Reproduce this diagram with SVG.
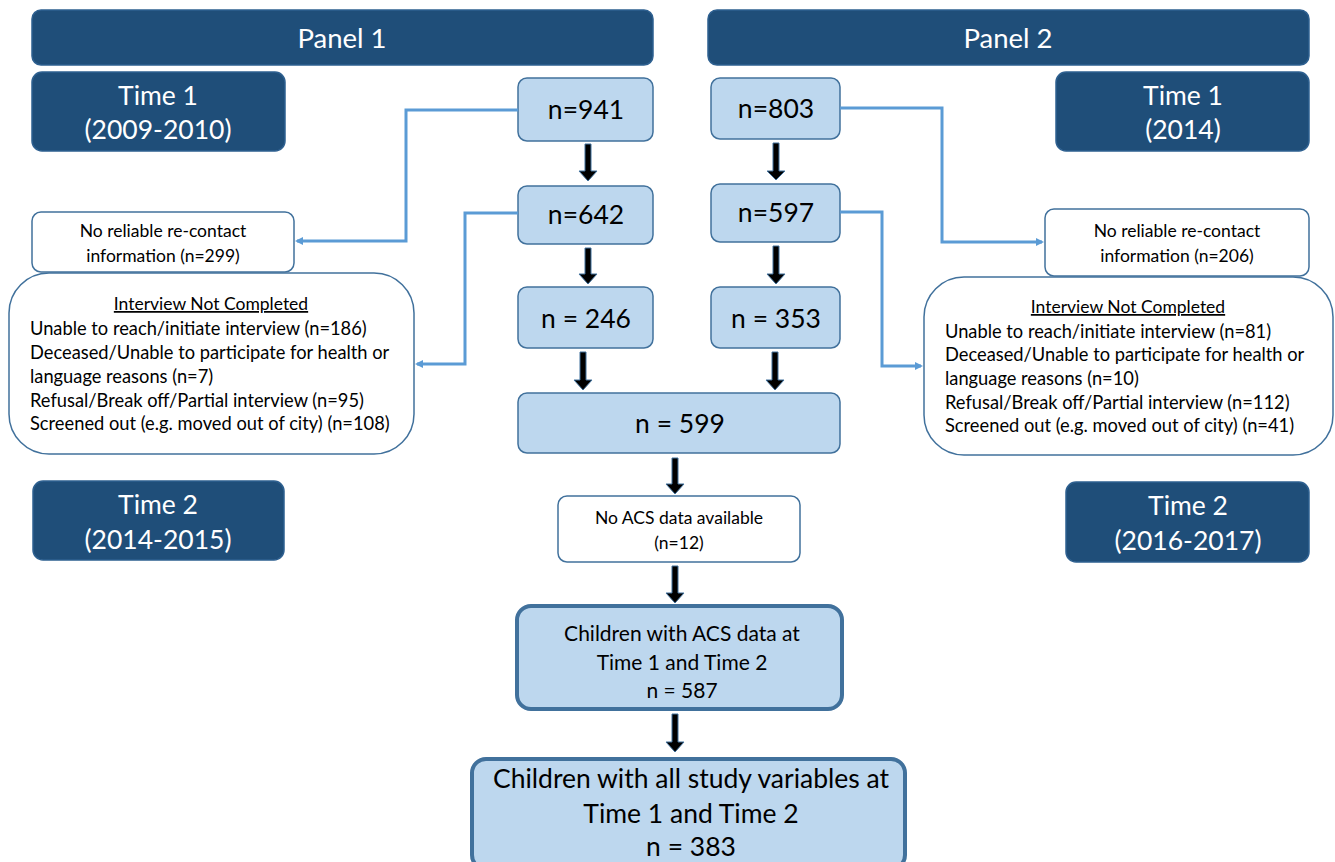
<svg xmlns="http://www.w3.org/2000/svg" width="1335" height="862" viewBox="0 0 1335 862">
<style>
text{font-family:Lato,"Open Sans","Liberation Sans",sans-serif;}
.dark{fill:#1F4E79;stroke:#2E6090;stroke-width:1.5;}
.lt{fill:#BDD7EE;stroke:#41719C;stroke-width:1.5;}
.lt2{fill:#BDD7EE;stroke:#41719C;stroke-width:4;}
.wb{fill:#FFFFFF;stroke:#41719C;stroke-width:1.5;}
.wt{fill:#FFFFFF;font-size:26.5px;text-anchor:middle;}
.bt{fill:#000000;font-size:26.5px;text-anchor:middle;}
.st{fill:#000000;font-size:17.5px;text-anchor:middle;}
.lt15{fill:#000000;font-size:18.3px;}
.conn{fill:none;stroke:#5B9BD5;stroke-width:3;}
.ba{fill:#000000;stroke:#41719C;stroke-width:1;}
</style>
<defs>
<marker id="ah" markerWidth="8" markerHeight="8" refX="6" refY="4" orient="auto" markerUnits="userSpaceOnUse" viewBox="0 0 8 8">
<path d="M0,0 L8,4 L0,8 Z" fill="#5B9BD5"/>
</marker>
</defs>
<rect width="1335" height="862" fill="#FFFFFF"/>

<g id="panel1"><rect class="dark" x="32" y="10" width="621" height="55" rx="9"/><text class="wt" style="font-size:27.5px" x="342" y="48">Panel 1</text></g>
<g id="panel2"><rect class="dark" x="708" y="10" width="601" height="55" rx="9"/><text class="wt" style="font-size:27.5px" x="1008" y="48">Panel 2</text></g>
<g id="time1-left"><rect class="dark" x="32" y="72" width="253" height="79" rx="10"/><text class="wt" x="158" y="105">Time 1</text><text class="wt" x="158" y="139">(2009-2010)</text></g>
<g id="time1-right"><rect class="dark" x="1056" y="72" width="253" height="79" rx="10"/><text class="wt" x="1183" y="105">Time 1</text><text class="wt" x="1183" y="139">(2014)</text></g>
<g id="time2-left"><rect class="dark" x="33" y="481" width="251" height="79" rx="10"/><text class="wt" x="158" y="514">Time 2</text><text class="wt" x="158" y="549">(2014-2015)</text></g>
<g id="time2-right"><rect class="dark" x="1066" y="482" width="243" height="80" rx="10"/><text class="wt" x="1188" y="515">Time 2</text><text class="wt" x="1188" y="550">(2016-2017)</text></g>

<g id="n941"><rect class="lt" x="518" y="78" width="135" height="63" rx="9"/><text class="bt" x="586" y="119">n=941</text></g>
<g id="n642"><rect class="lt" x="518" y="186" width="135" height="58" rx="9"/><text class="bt" x="586" y="224">n=642</text></g>
<g id="n246"><rect class="lt" x="518" y="287" width="135" height="61" rx="9"/><text class="bt" x="586" y="328">n = 246</text></g>
<g id="n803"><rect class="lt" x="711" y="78" width="129" height="61" rx="9"/><text class="bt" x="776" y="118">n=803</text></g>
<g id="n597"><rect class="lt" x="711" y="184" width="129" height="58" rx="9"/><text class="bt" x="776" y="222">n=597</text></g>
<g id="n353"><rect class="lt" x="711" y="287" width="129" height="61" rx="9"/><text class="bt" x="776" y="328">n = 353</text></g>
<g id="n599"><rect class="lt" x="518" y="393" width="322" height="60" rx="9"/><text class="bt" x="680" y="433">n = 599</text></g>

<g id="noacs"><rect class="wb" x="558" y="496" width="242" height="66" rx="9"/><text class="st" x="679" y="524">No ACS data available</text><text class="st" x="679" y="549">(n=12)</text></g>
<g id="acs587"><rect class="lt2" x="517" y="606" width="325" height="103" rx="14"/><text class="bt" style="font-size:21px" x="682" y="641">Children with ACS data at</text><text class="bt" style="font-size:21px" x="682" y="670">Time 1 and Time 2</text><text class="bt" style="font-size:21px" x="682" y="698">n = 587</text></g>
<g id="all383"><rect class="lt2" x="472" y="759" width="433" height="110" rx="14"/><text class="bt" x="691" y="788">Children with all study variables at</text><text class="bt" x="691" y="823">Time 1 and Time 2</text><text class="bt" x="691" y="856">n = 383</text></g>

<g id="norecontact-left"><rect class="wb" x="32" y="212" width="262" height="60" rx="9"/><text class="st" x="163" y="237">No reliable re-contact</text><text class="st" x="163" y="262">information (n=299)</text></g>
<g id="norecontact-right"><rect class="wb" x="1045" y="209" width="264" height="67" rx="9"/><text class="st" x="1177" y="237">No reliable re-contact</text><text class="st" x="1177" y="262">information (n=206)</text></g>

<g id="interview-left"><rect class="wb" x="9" y="273" width="405" height="181" rx="40"/>
<text class="st" x="211" y="310" style="text-decoration:underline;font-size:17.5px">Interview Not Completed</text>
<text class="lt15" x="30" y="335">Unable to reach/initiate interview (n=186)</text>
<text class="lt15" x="30" y="359">Deceased/Unable to participate for health or</text>
<text class="lt15" x="30" y="383">language reasons (n=7)</text>
<text class="lt15" x="30" y="407">Refusal/Break off/Partial interview (n=95)</text>
<text class="lt15" x="30" y="430">Screened out (e.g. moved out of city) (n=108)</text>
</g>
<g id="interview-right"><rect class="wb" x="924" y="277" width="409" height="178" rx="40"/>
<text class="st" x="1128" y="313" style="text-decoration:underline;font-size:17.5px">Interview Not Completed</text>
<text class="lt15" x="945" y="338">Unable to reach/initiate interview (n=81)</text>
<text class="lt15" x="945" y="361">Deceased/Unable to participate for health  or</text>
<text class="lt15" x="945" y="385">language reasons (n=10)</text>
<text class="lt15" x="945" y="409">Refusal/Break off/Partial interview (n=112)</text>
<text class="lt15" x="945" y="432">Screened out (e.g. moved out of city) (n=41)</text>
</g>

<g id="connectors">
<path class="conn" marker-end="url(#ah)" d="M518,110 H406 V241 H297"/>
<path class="conn" marker-end="url(#ah)" d="M518,213 H465 V364 H417"/>
<path class="conn" marker-end="url(#ah)" d="M840,108 H942 V242 H1042"/>
<path class="conn" marker-end="url(#ah)" d="M840,212 H882 V366 H921"/>
<polygon class="ba" points="585,144 591,144 591,171 597,171 588,181 579,171 585,171"/>
<polygon class="ba" points="585,248 591,248 591,274 597,274 588,284 579,274 585,274"/>
<polygon class="ba" points="773,143 779,143 779,171 785,171 776,180 767,171 773,171"/>
<polygon class="ba" points="773,246 779,246 779,274 785,274 776,284 767,274 773,274"/>
<polygon class="ba" points="580,352 586,352 586,380 592,380 583,390 574,380 580,380"/>
<polygon class="ba" points="772,352 778,352 778,380 784,380 775,390 766,380 772,380"/>
<polygon class="ba" points="672,458 678,458 678,484 684,484 675,494 666,484 672,484"/>
<polygon class="ba" points="672,566 678,566 678,593 684,593 675,603 666,593 672,593"/>
<polygon class="ba" points="672,714 678,714 678,742 684,742 675,752 666,742 672,742"/>
</g>
</svg>
